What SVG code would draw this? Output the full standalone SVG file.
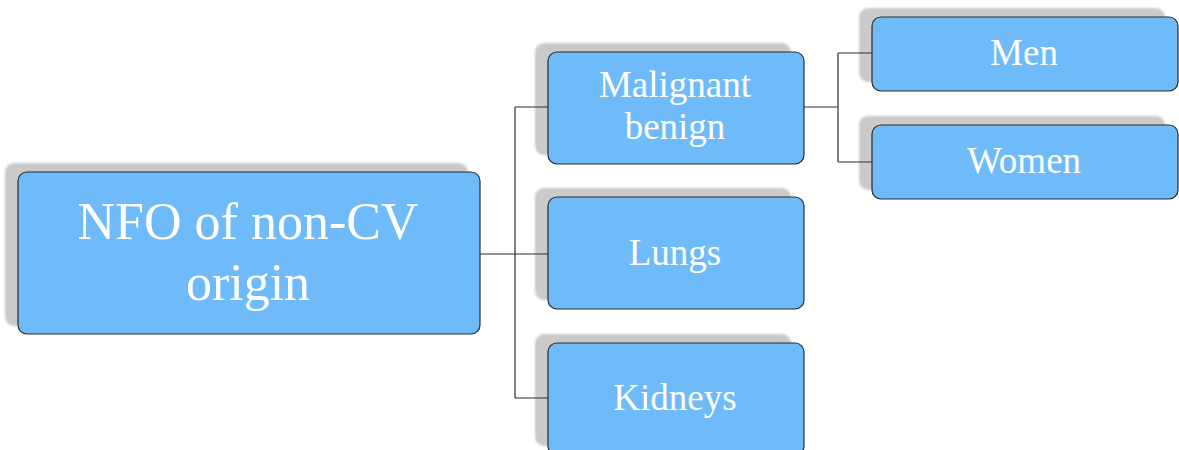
<svg xmlns="http://www.w3.org/2000/svg" width="1179" height="450" viewBox="0 0 1179 450">
  <defs>
    <filter id="soft" x="-5%" y="-5%" width="110%" height="110%">
      <feGaussianBlur stdDeviation="1.2"/>
    </filter>
  </defs>
  <style>
    .shadow { fill: #cacaca; filter: url(#soft); }
    .box { fill: #6fbbf9; stroke: #2a2a2a; stroke-width: 1.2; }
    .label { fill: #ffffff; font-family: "Liberation Serif", "Times New Roman", serif; text-anchor: middle; }
    .edge { fill: none; stroke: #2e2e2e; stroke-width: 1.2; }
  </style>
  <rect width="1179" height="450" fill="#ffffff"/>

  <g id="node-root">
    <rect class="shadow" x="5" y="163" width="463" height="163" rx="9"/>
    <rect class="box" x="18" y="172" width="462" height="162" rx="9"/>
    <text class="label" font-size="52" x="248" y="239">NFO of non-CV</text>
    <text class="label" font-size="52" x="248" y="300">origin</text>
  </g>

  <g id="node-malignant">
    <rect class="shadow" x="535" y="43" width="256" height="112" rx="9"/>
    <rect class="box" x="548" y="52" width="256" height="112" rx="9"/>
    <text class="label" font-size="37" x="675" y="97">Malignant</text>
    <text class="label" font-size="37" x="675" y="139">benign</text>
  </g>

  <g id="node-lungs">
    <rect class="shadow" x="535" y="188" width="256" height="112" rx="9"/>
    <rect class="box" x="548" y="197" width="256" height="112" rx="9"/>
    <text class="label" font-size="37" x="675" y="265">Lungs</text>
  </g>

  <g id="node-kidneys">
    <rect class="shadow" x="535" y="334" width="256" height="112" rx="9"/>
    <rect class="box" x="548" y="343" width="256" height="112" rx="9"/>
    <text class="label" font-size="37" x="675" y="410">Kidneys</text>
  </g>

  <g id="node-men">
    <rect class="shadow" x="859" y="8" width="306" height="74" rx="9"/>
    <rect class="box" x="872" y="17" width="306" height="74" rx="9"/>
    <text class="label" font-size="37" x="1024" y="65">Men</text>
  </g>

  <g id="node-women">
    <rect class="shadow" x="859" y="116" width="306" height="74" rx="9"/>
    <rect class="box" x="872" y="125" width="306" height="74" rx="9"/>
    <text class="label" font-size="37" x="1024" y="173">Women</text>
  </g>

  <!-- tree connectors, drawn over the drop shadows -->
  <g id="connectors">
    <path class="edge" d="M480 254 H548 M515 107 V398 M515 107 H548 M515 398 H548"/>
    <path class="edge" d="M804 107 H838 M838 53 V162 M838 53 H872 M838 162 H872"/>
  </g>
</svg>
